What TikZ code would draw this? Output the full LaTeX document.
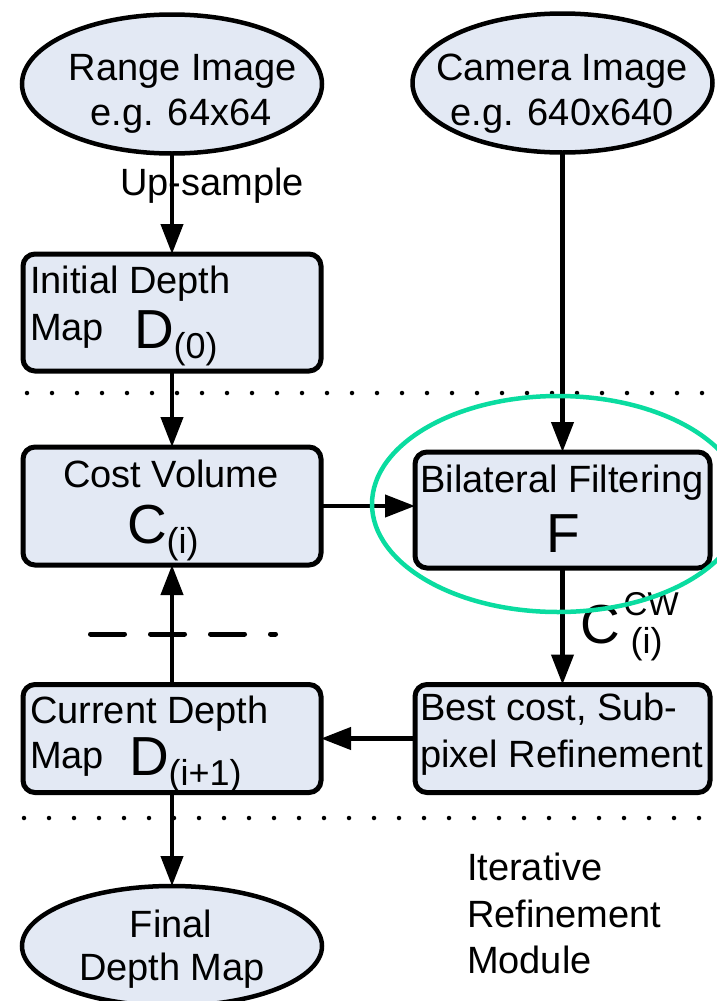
\documentclass[tikz,border=0pt]{standalone}
\usepackage{fontspec}
\setmainfont{Liberation Sans}
\usetikzlibrary{arrows.meta,shapes.geometric}

\definecolor{boxfill}{RGB}{227,233,244}
\definecolor{ringgreen}{RGB}{10,220,160}

\newcommand\txtfont{\fontsize{38}{46}\selectfont}
\newcommand\symfont{\fontsize{55}{55}\selectfont}
\newcommand\subfont{\fontsize{36}{36}\selectfont}
% large symbol with a lowered bracketed index
\newcommand\symsub[2]{{\symfont #1}\raisebox{-10pt}{\subfont #2}}

\begin{document}
\begin{tikzpicture}[x=1pt,y=-1pt,
  every node/.style={font=\txtfont, inner sep=0pt, outer sep=0pt},
  stepbox/.style={rectangle, draw, line width=5pt, fill=boxfill, rounded corners=12pt},
  oval/.style={ellipse, draw, line width=4.5pt, fill=boxfill},
  flow/.style={line width=4.2pt, -{Triangle[length=30pt,width=22pt]}},
  dotsep/.style={line width=4.5pt, line cap=round, dash pattern=on 0pt off 25pt},
  dashsep/.style={line width=5pt, line cap=round, dash pattern=on 34pt off 26pt},
]
\useasboundingbox (0,0) rectangle (716,1001);

% inputs
\node[oval, minimum width=300pt, minimum height=139pt] (range) at (172,84) {};
\node[anchor=base] (rangeA) at (183,80) {Range Image};
\node[anchor=base] (rangeB) at (181,125) {e.g. 64x64};

\node[oval, minimum width=300pt, minimum height=139pt] (camera) at (562.5,83) {};
\node[anchor=base] (cameraA) at (562,80) {Camera Image};
\node[anchor=base] (cameraB) at (562,125) {e.g. 640x640};

% initial depth map
\node[stepbox, minimum width=298pt, minimum height=117pt] (init) at (172,312.5) {};
\node[anchor=base west] (initA) at (30,293) {Initial Depth};
\node[anchor=base west] (initB) at (30,340) {Map};
\node[anchor=base west] (initD) at (134,348) {\symsub{D}{(0)}};

% iterative module
\node[stepbox, minimum width=298pt, minimum height=118pt] (cost) at (172,506) {};
\node[anchor=base] (costA) at (171,487) {Cost Volume};
\node[anchor=base west] (costC) at (127,543) {\symsub{C}{(i)}};

\node[stepbox, minimum width=295pt, minimum height=116pt] (bil) at (562.5,510) {};
\node[anchor=base] (bilA) at (562,492) {Bilateral Filtering};
\node[anchor=base] (bilF) at (563,552) {\symfont F};

\node[stepbox, minimum width=295pt, minimum height=108pt] (best) at (562.5,738.5) {};
\node[anchor=base west] (bestA) at (420,720) {Best cost, Sub-};
\node[anchor=base west] (bestB) at (420,767) {pixel Refinement};

\node[stepbox, minimum width=298pt, minimum height=108pt] (cur) at (172,738.5) {};
\node[anchor=base west] (curA) at (30,723) {Current Depth};
\node[anchor=base west] (curB) at (30,768) {Map};
\node[anchor=base west] (curD) at (129,775) {\symsub{D}{(i+1)}};

\node[anchor=base west] (cw) at (580,643)
  {{\symfont C}\kern4pt\rlap{\raisebox{28pt}{\fontsize{33}{33}\selectfont CW}}\kern7pt\raisebox{-10pt}{\subfont (i)}};

% output
\node[oval, minimum width=300pt, minimum height=120pt] (final) at (172,946) {};
\node[anchor=base] (finalA) at (171,937) {Final};
\node[anchor=base] (finalB) at (172,980) {Depth Map};

\node[anchor=base west] (modA) at (467,880) {Iterative};
\node[anchor=base west] (modB) at (467,927) {Refinement};
\node[anchor=base west] (modC) at (467,973) {Module};

% connectors
\draw[flow] (range.south) -- (init.north);
\node[anchor=base] (upsample) at (212,195) {Up-sample};
\draw[flow] (init.south) -- (cost.north);
\draw[flow] (camera.south) -- (bil.north);
\draw[flow] (cost.east) -- (cost.east -| bil.west);
\draw[flow] (bil.south) -- (best.north);
\draw[flow] (best.west) -- (best.west -| cur.east);
\draw[flow] (cur.north) -- (cost.south);
\draw[flow] (cur.south) -- (final.north);

% separators
\draw[dotsep] (27,393) -- (703,393);
\draw[dotsep] (24,818) -- (700,818);
\draw[dashsep] (90.5,634) -- (275.5,634);

% highlight ring
\node[ellipse, draw=ringgreen, line width=4.5pt, minimum width=372pt, minimum height=216pt] (focus) at (558,504) {};
\end{tikzpicture}
\end{document}
